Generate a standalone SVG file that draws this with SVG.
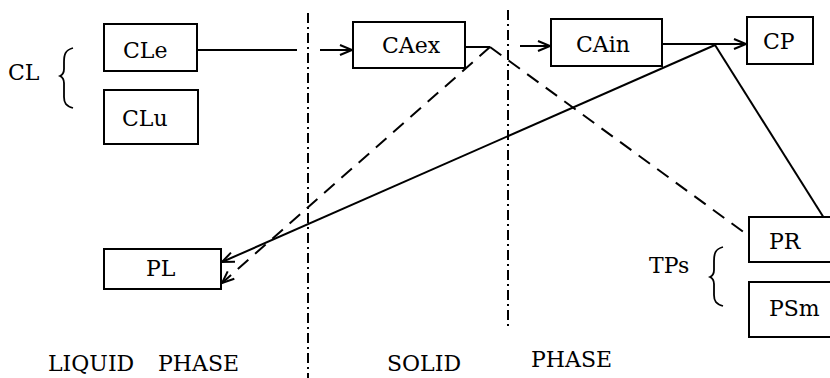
<svg xmlns="http://www.w3.org/2000/svg" width="830" height="378" viewBox="0 0 830 378">
<style>
.box{fill:#fff;stroke:#000;stroke-width:2}
.t{font-family:"DejaVu Serif","Liberation Serif",serif;font-size:22px;fill:#000}
.ln{stroke:#000;stroke-width:2;fill:none}
.dash{stroke:#000;stroke-width:2;fill:none;stroke-dasharray:14,9}
.div{stroke:#000;stroke-width:2;fill:none;stroke-dasharray:10,4,2,4}
.br{stroke:#000;stroke-width:1.8;fill:none}
</style>
<defs>
<marker id="ar" markerUnits="userSpaceOnUse" markerWidth="16" markerHeight="12" refX="13" refY="6" orient="auto">
<path d="M1,1 L13,6 L1,11" fill="none" stroke="#000" stroke-width="2" stroke-dasharray="none"/>
</marker>
</defs>
<rect width="830" height="378" fill="#fff"/>
<g id="dividers">
<line class="div" x1="308" y1="13" x2="308" y2="378"/>
<line class="div" x1="508" y1="10" x2="508" y2="327"/>
</g>
<g id="connectors">
<line class="ln" x1="197" y1="50" x2="297" y2="50"/>
<line class="ln" x1="320" y1="50" x2="352" y2="50" marker-end="url(#ar)"/>
<line class="ln" x1="465" y1="47" x2="490" y2="47"/>
<line class="dash" x1="490" y1="47" x2="222" y2="283" marker-end="url(#ar)"/>
<line class="dash" x1="490" y1="47" x2="749" y2="236"/>
<line class="ln" x1="520" y1="46" x2="550" y2="46" marker-end="url(#ar)"/>
<line class="ln" x1="662" y1="44" x2="746" y2="44" marker-end="url(#ar)"/>
<line class="ln" x1="715" y1="45" x2="222" y2="262" marker-end="url(#ar)"/>
<line class="ln" x1="715" y1="45" x2="824" y2="218"/>
</g>
<g id="CLe"><rect class="box" x="104" y="24" width="93" height="47"/><text class="t" x="123" y="58">CLe</text></g>
<g id="CLu"><rect class="box" x="104" y="90" width="94" height="54"/><text class="t" x="122" y="126">CLu</text></g>
<g id="CAex"><rect class="box" x="353" y="22" width="112" height="46"/><text class="t" x="382" y="53">CAex</text></g>
<g id="CAin"><rect class="box" x="551" y="19" width="111" height="47"/><text class="t" x="576" y="52">CAin</text></g>
<g id="CP"><rect class="box" x="747" y="17" width="66" height="47"/><text class="t" x="763" y="49">CP</text></g>
<g id="PL"><rect class="box" x="104" y="249" width="117" height="40"/><text class="t" x="146" y="276">PL</text></g>
<g id="PR"><rect class="box" x="749" y="217" width="100" height="45"/><text class="t" x="769" y="249">PR</text></g>
<g id="PSm"><rect class="box" x="749" y="282" width="100" height="55"/><text class="t" x="769" y="316">PSm</text></g>
<g id="CL">
<text class="t" x="8" y="80">CL</text>
<path class="br" d="M73,48 C65,50 64,55 64,62 L64,69 C64,73 62,75 60,76 C62,77 64,79 64,83 L64,97 C64,103 66,106 73,108"/>
</g>
<g id="TPs">
<text class="t" x="649" y="273">TPs</text>
<path class="br" d="M723,247 C715,249 714,254 714,261 L714,270 C714,274 712,276 710,277 C712,278 714,280 714,284 L714,295 C714,301 716,304 723,306"/>
</g>
<g id="labels">
<text class="t" x="48" y="371">LIQUID</text>
<text class="t" x="158" y="371">PHASE</text>
<text class="t" x="387" y="371">SOLID</text>
<text class="t" x="531" y="367">PHASE</text>
</g>
</svg>
